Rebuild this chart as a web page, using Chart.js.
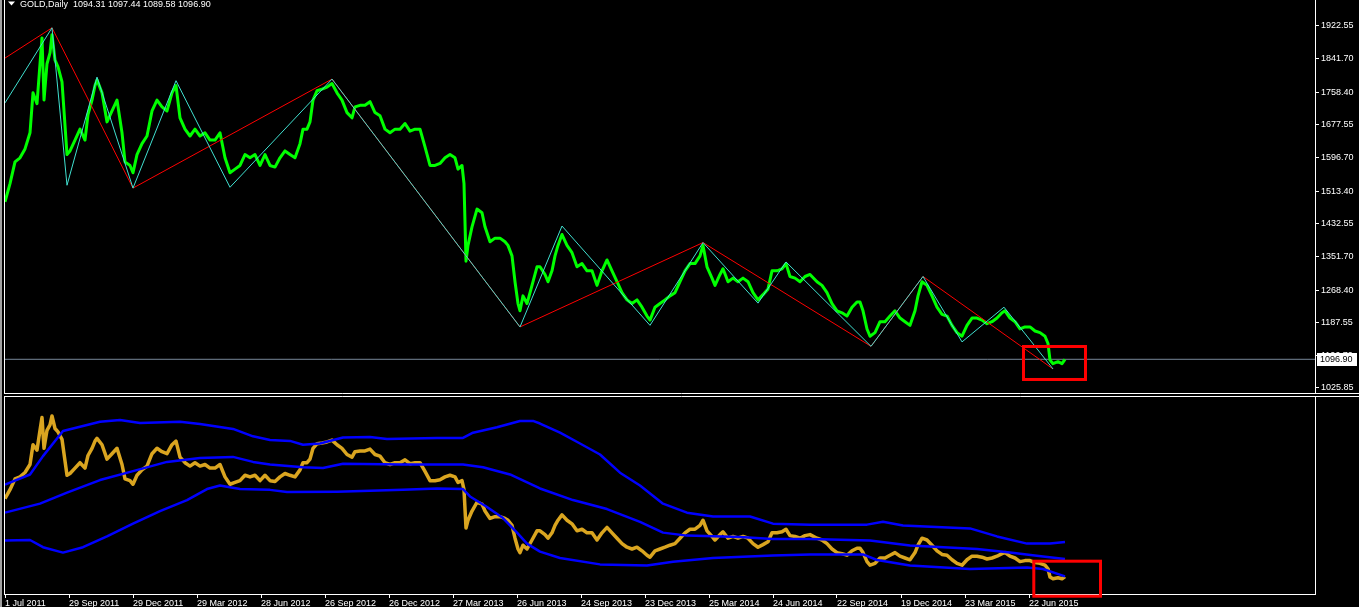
<!DOCTYPE html>
<html><head><meta charset="utf-8">
<script src="https://cdn.jsdelivr.net/npm/chart.js@4.4.1/dist/chart.umd.min.js"></script>
<style>
html,body{margin:0;padding:0;background:#000;width:1359px;height:607px;overflow:hidden;}
#strip{position:absolute;left:0;top:0;width:2px;height:607px;background:#a0a0a0;}
#c1{position:absolute;left:0;top:0;}
#c2{position:absolute;left:0;top:395px;}
</style></head><body>
<div id="strip"></div>
<canvas id="c1" width="1359" height="395"></canvas>
<canvas id="c2" width="1359" height="212"></canvas>
<script>
// ---------------- DATA ----------------
const symbolName = 'GOLD';
const timeframeName = 'Daily';
const lastBarOHLC = [1094.31, 1097.44, 1089.58, 1096.90];

const dateLabels = ['1 Jul 2011','29 Sep 2011','29 Dec 2011','29 Mar 2012','28 Jun 2012','26 Sep 2012',
  '26 Dec 2012','27 Mar 2013','26 Jun 2013','24 Sep 2013','23 Dec 2013','25 Mar 2014','24 Jun 2014',
  '22 Sep 2014','19 Dec 2014','23 Mar 2015','22 Jun 2015'];
const dateTickBars = [0,64,128,192,256,320,384,448,512,576,640,704,768,832,896,960,1024];

const priceTicks = [1922.55,1841.70,1758.40,1677.55,1596.70,1513.40,1432.55,1351.70,1268.40,1187.55,1106.70,1025.85];

const closeBars = [
  0,5,10,15,20,25,28,32,35,37,
  39,42,45,47,50,53,57,59,62,65,
  70,75,80,83,87,90,92,97,102,107,
  112,117,120,125,128,132,137,142,147,152,
  157,162,167,171,175,180,185,190,195,200,
  205,210,215,220,225,230,235,240,245,250,
  255,260,265,270,275,280,285,290,295,298,
  302,305,308,312,317,322,327,332,337,342,
  347,350,355,360,365,370,375,380,385,390,
  395,400,405,410,415,420,425,430,435,440,
  445,450,453,457,459,461,463,467,472,477,
  480,485,490,495,500,503,507,510,513,515,
  518,522,527,532,535,540,543,547,550,553,
  557,562,567,572,577,582,587,592,597,602,
  607,612,617,622,627,632,637,642,645,650,
  655,660,665,670,675,680,685,690,695,698,
  702,707,710,715,718,723,728,733,738,743,
  748,753,758,763,767,772,777,781,785,790,
  795,800,805,812,817,822,827,832,837,842,
  847,852,855,858,862,865,870,875,880,885,
  890,895,900,905,910,913,917,922,927,932,
  937,942,947,952,957,962,967,972,977,982,
  987,992,997,1000,1005,1010,1015,1020,1025,1030,
  1035,1040,1043,1045,1048,1053,1057,1060];
const closePrices = [
  1487,1532,1586,1596,1618,1658,1757,1730,1829,1893,
  1739,1829,1856,1901,1838,1821,1784,1712,1604,1613,
  1640,1667,1640,1703,1739,1775,1789,1757,1685,1712,
  1739,1658,1586,1577,1559,1604,1631,1650,1712,1739,
  1722,1712,1757,1775,1695,1667,1650,1667,1650,1658,
  1640,1640,1658,1596,1559,1568,1577,1604,1596,1604,
  1577,1604,1577,1573,1596,1613,1604,1596,1631,1667,
  1667,1685,1739,1762,1766,1771,1780,1757,1739,1708,
  1695,1722,1726,1726,1735,1708,1700,1667,1658,1667,
  1667,1681,1662,1667,1667,1623,1577,1577,1582,1596,
  1604,1596,1568,1577,1532,1340,1379,1425,1469,1460,
  1425,1388,1397,1397,1388,1379,1353,1289,1235,1217,
  1254,1235,1280,1326,1326,1307,1289,1316,1353,1379,
  1406,1379,1361,1326,1334,1316,1316,1280,1316,1343,
  1316,1289,1262,1244,1235,1244,1226,1204,1194,1226,
  1235,1244,1254,1262,1289,1316,1334,1334,1353,1379,
  1326,1298,1280,1307,1321,1289,1298,1289,1298,1289,
  1262,1244,1257,1271,1316,1316,1321,1334,1302,1298,
  1289,1302,1307,1289,1280,1262,1235,1217,1212,1204,
  1226,1239,1239,1217,1172,1154,1163,1190,1190,1204,
  1217,1199,1190,1181,1217,1254,1289,1280,1254,1226,
  1208,1204,1181,1163,1154,1181,1199,1199,1194,1185,
  1190,1199,1212,1217,1199,1190,1172,1177,1177,1167,
  1163,1154,1136,1095,1086,1091,1086,1096.90];

const zigzagFastBars   = [0,47,62,92,128,171,225,327,515,557,645,698,753,781,866,918,957,999,1048];
const zigzagFastPrices = [1732,1918,1528,1796,1521,1787,1523,1791,1177,1427,1181,1386,1236,1338,1129,1302,1140,1226,1073];
const zigzagSlowBars   = [0,47,128,327,515,698,866,918,1048];
const zigzagSlowPrices = [1843,1918,1521,1791,1177,1386,1129,1302,1073];

const bandUpperBars = [0,25,38,58,95,115,135,175,195,228,248,265,285,298,315,338,365,382,432,458,468,492,515,528,535,555,575,595,615,635,658,682,708,745,768,805,862,878,898,965,992,1022,1045,1060];
const bandUpperValues = [1557,1608,1700,1826,1872,1881,1866,1872,1861,1836,1799,1781,1776,1757,1763,1793,1796,1786,1791,1791,1817,1844,1876,1876,1863,1817,1763,1708,1617,1553,1462,1417,1398,1398,1362,1357,1357,1371,1353,1338,1298,1262,1262,1270];
const bandMidBars = [0,35,62,95,128,162,195,228,248,265,298,318,338,398,458,478,505,535,568,602,635,658,682,735,768,805,865,905,972,1005,1038,1060];
const bandMidValues = [1417,1462,1517,1580,1625,1671,1691,1696,1671,1658,1644,1640,1662,1658,1658,1644,1608,1538,1480,1435,1371,1317,1302,1295,1285,1285,1277,1253,1235,1217,1198,1185];
const bandLowerBars = [0,25,38,58,78,102,128,155,182,202,215,235,265,282,332,398,432,458,465,482,498,512,522,535,555,595,642,668,708,768,805,858,872,905,965,1022,1038,1060];
const bandLowerValues = [1277,1280,1244,1217,1244,1298,1362,1425,1480,1535,1553,1535,1531,1520,1522,1531,1538,1535,1498,1445,1390,1317,1262,1222,1190,1158,1152,1171,1190,1202,1208,1208,1180,1152,1135,1143,1135,1098];

// ---------------- HELPERS ----------------
const pts = (xs, ys) => xs.map((x, i) => ({x: x, y: ys[i]}));
const lastClose = lastBarOHLC[3];
const FONT = 'Liberation Sans';
const X_MIN = -1, X_MAX = 1310;

const highlightMain = {bars: [1018.5, 1080.5], prices: [1128.6, 1046.9]};
const highlightSub  = {bars: [1028.8, 1095.5], prices: [1174, 998.8]};

function drawHighlight(chart, h) {
  const {ctx, scales} = chart;
  const x1 = scales.x.getPixelForValue(h.bars[0]);
  const x2 = scales.x.getPixelForValue(h.bars[1]);
  const y1 = scales.y.getPixelForValue(h.prices[0]);
  const y2 = scales.y.getPixelForValue(h.prices[1]);
  ctx.save();
  ctx.strokeStyle = '#ff0000';
  ctx.lineWidth = 3;
  ctx.strokeRect(x1, y1, x2 - x1, y2 - y1);
  ctx.restore();
}

const topPlugin = {
  id: 'topDeco',
  afterDraw(chart) {
    const {ctx, chartArea: a, scales} = chart;
    drawHighlight(chart, highlightMain);
    ctx.save();
    ctx.strokeStyle = '#ffffff';
    ctx.lineWidth = 1;
    ctx.beginPath();
    ctx.moveTo(a.left + 0.5, 0); ctx.lineTo(a.left + 0.5, a.bottom + 0.5);
    ctx.moveTo(a.left, a.bottom + 0.5); ctx.lineTo(chart.width, a.bottom + 0.5);
    ctx.stroke();
    // bid price label
    const y = Math.round(scales.y.getPixelForValue(lastClose));
    ctx.fillStyle = '#ffffff';
    ctx.fillRect(a.right + 2, y - 6, 40, 13);
    ctx.fillStyle = '#000000';
    ctx.font = '9px ' + FONT;
    ctx.textBaseline = 'middle';
    ctx.textAlign = 'left';
    ctx.fillText(lastClose.toFixed(2), a.right + 5, y + 1);
    // title
    ctx.fillStyle = '#ffffff';
    ctx.beginPath();
    ctx.moveTo(8, 1.5); ctx.lineTo(15, 1.5); ctx.lineTo(11.5, 5.5); ctx.closePath();
    ctx.fill();
    ctx.textBaseline = 'alphabetic';
    ctx.fillText(symbolName + ',' + timeframeName + '  ' + lastBarOHLC.map(v => v.toFixed(2)).join(' '), 20, 7);
    ctx.restore();
  }
};

const subPlugin = {
  id: 'subDeco',
  afterDraw(chart) {
    const {ctx, chartArea: a} = chart;
    ctx.save();
    ctx.strokeStyle = '#ffffff';
    ctx.lineWidth = 1;
    ctx.beginPath();
    ctx.moveTo(a.left, a.top + 0.5); ctx.lineTo(chart.width, a.top + 0.5);
    ctx.moveTo(a.left + 0.5, a.top); ctx.lineTo(a.left + 0.5, a.bottom + 0.5);
    ctx.stroke();
    ctx.restore();
    drawHighlight(chart, highlightSub);
  }
};

const lineDs = (data, color, width, order) => ({
  data, borderColor: color, borderWidth: width, pointRadius: 0, pointHoverRadius: 0,
  tension: 0, fill: false, order, borderJoinStyle: 'round'
});

const xScaleBase = {
  type: 'linear', min: X_MIN, max: X_MAX, offset: false
};

// ---------------- MAIN CHART ----------------
new Chart(document.getElementById('c1'), {
  type: 'line',
  data: {
    datasets: [
      lineDs(pts(zigzagFastBars, zigzagFastPrices), '#40e0d0', 1, 0),
      lineDs(pts(zigzagSlowBars, zigzagSlowPrices), '#ff0000', 1, 1),
      lineDs(pts(closeBars, closePrices), '#00ff00', 3, 2),
      lineDs(pts([X_MIN, X_MAX], [lastClose, lastClose]), '#778899', 1, 3)
    ]
  },
  options: {
    responsive: false, animation: false, devicePixelRatio: 1, parsing: true,
    layout: {padding: {left: 4, top: 0, right: 0, bottom: 2}},
    plugins: {legend: {display: false}, tooltip: {enabled: false}},
    events: [],
    scales: {
      x: Object.assign({}, xScaleBase, {display: false}),
      y: {
        type: 'linear', position: 'right', min: 1013.4, max: 1986.9,
        afterBuildTicks: s => { s.ticks = priceTicks.map(v => ({value: v})); },
        afterFit: s => { s.width = 44; s.paddingTop = 0; s.paddingBottom = 0; },
        grid: {display: true, drawOnChartArea: false, drawTicks: true, tickLength: 4, color: '#ffffff'},
        border: {display: true, color: '#ffffff', width: 1},
        ticks: {color: '#ffffff', padding: 2, font: {family: FONT, size: 9}, autoSkip: false,
                callback: v => Number(v).toFixed(2)}
      }
    }
  },
  plugins: [topPlugin]
});

// ---------------- INDICATOR CHART ----------------
new Chart(document.getElementById('c2'), {
  type: 'line',
  data: {
    datasets: [
      lineDs(pts(bandUpperBars, bandUpperValues), '#0000ff', 2.5, 0),
      lineDs(pts(bandMidBars, bandMidValues), '#0000ff', 2.5, 0),
      lineDs(pts(bandLowerBars, bandLowerValues), '#0000ff', 2.5, 0),
      lineDs(pts(closeBars, closePrices), '#daa520', 3.5, 1)
    ]
  },
  options: {
    responsive: false, animation: false, devicePixelRatio: 1,
    layout: {padding: {left: 4, top: 1, right: 0, bottom: 0}},
    plugins: {legend: {display: false}, tooltip: {enabled: false}},
    events: [],
    scales: {
      x: Object.assign({}, xScaleBase, {
        display: true, position: 'bottom',
        afterBuildTicks: s => { s.ticks = dateTickBars.map(v => ({value: v})); },
        afterFit: s => { s.height = 13; s.paddingLeft = 0; s.paddingRight = 0; },
        grid: {display: true, drawOnChartArea: false, drawTicks: true, tickLength: 4, color: '#ffffff'},
        border: {display: true, color: '#ffffff', width: 1},
        ticks: {color: '#ffffff', padding: 0, align: 'start', autoSkip: false, maxRotation: 0, minRotation: 0,
                font: {family: FONT, size: 9},
                callback: (v, i) => dateLabels[i]}
      }),
      y: {
        type: 'linear', position: 'right', min: 1009.8, max: 2000.8,
        afterFit: s => { s.width = 44; s.paddingTop = 0; s.paddingBottom = 0; },
        grid: {display: false},
        border: {display: true, color: '#ffffff', width: 1},
        ticks: {display: false}
      }
    }
  },
  plugins: [subPlugin]
});
</script>
</body></html>
